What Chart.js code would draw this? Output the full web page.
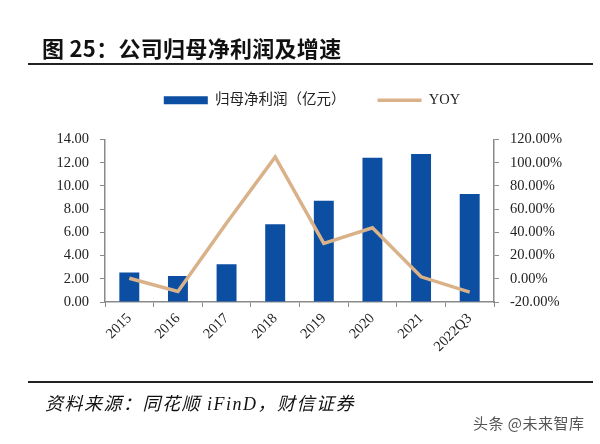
<!DOCTYPE html>
<html>
<head>
<meta charset="utf-8">
<script src="https://cdn.jsdelivr.net/npm/chart.js@4"></script>
<style>
  body { margin: 0; background: #fff; }
  #wrap { position: relative; width: 600px; height: 444px; overflow: hidden; }
  #myCanvas { position: absolute; left: 0; top: 0; }
  .txt { position: absolute; white-space: nowrap; }
  #titulo { left: 42px; top: 31px; font: bold 22px "Noto Sans CJK SC", sans-serif; color: #111; letter-spacing: 0.3px; }
  #fuente { left: 45px; top: 389px; font: italic 18px "Liberation Serif", "Noto Sans CJK SC", serif; color: #111; letter-spacing: 1.5px; }
  #marca { left: 473px; top: 412px; font: 15px "Noto Sans CJK SC", sans-serif; color: #555; letter-spacing: 0.5px; }
  .regla { position: absolute; left: 28px; width: 565px; height: 2px; background: #222; }
</style>
</head>
<body>
<div id="wrap">
  <canvas id="myCanvas" width="600" height="444"></canvas>
  <div class="txt" id="titulo">图 25：公司归母净利润及增速</div>
  <div class="regla" style="top:63px"></div>
  <div class="regla" style="top:381px"></div>
  <div class="txt" id="fuente">资料来源：同花顺 iFinD，财信证券</div>
  <div class="txt" id="marca">头条 @未来智库</div>
</div>
<script>
let canvas = document.getElementById("myCanvas");

// datos
const anios = ["2015", "2016", "2017", "2018", "2019", "2020", "2021", "2022Q3"];
const utilidad = [2.55, 2.23, 3.26, 6.7, 8.73, 12.43, 12.75, 9.3];
const yoy = [0.5, -11, 48, 105, 30.5, 44, 1.7, -11.5];
const ticksIzq = [0, 2, 4, 6, 8, 10, 12, 14];
const ticksDer = [-20, 0, 20, 40, 60, 80, 100, 120];

const azul = "#0B4EA2";
const beige = "#D9B28A";
const gris = "#8a8a8a";
const fuenteEje = { family: "'Liberation Serif', serif", size: 14.5 };

// espacio extra debajo de la leyenda
const ajusteLeyenda = {
  id: "ajusteLeyenda",
  beforeLayout(chart) {
    const leg = chart.legend;
    if (leg && !leg._ajustado) {
      const fitOrig = leg.fit;
      leg.fit = function () {
        fitOrig.call(this);
        this.height += 22;
      };
      leg._ajustado = true;
    }
  }
};

const generarGrafica = () => {
  window.chart = new Chart(canvas, {
    type: "bar",
    data: {
      labels: anios,
      datasets: [
        {
          label: "归母净利润（亿元）",
          data: utilidad,
          backgroundColor: azul,
          borderWidth: 0,
          yAxisID: "y",
          order: 1,
          categoryPercentage: 1,
          barPercentage: 0.41,
        },
        {
          type: "line",
          label: "YOY",
          data: yoy,
          borderColor: beige,
          backgroundColor: beige,
          borderWidth: 3.5,
          pointRadius: 0,
          tension: 0,
          yAxisID: "y1",
          order: 0,
        },
      ],
    },
    options: {
      responsive: false,
      animation: false,
      layout: { padding: { top: 61, left: 24, right: 0, bottom: 0 } },
      plugins: {
        tooltip: { enabled: false },
        legend: {
          position: "top",
          labels: {
            usePointStyle: true,
            pointStyleWidth: 44,
            boxHeight: 8,
            padding: 32,
            color: "#222",
            font: { family: "'Liberation Serif', 'Noto Sans CJK SC', serif", size: 14.5 },
            generateLabels: (chart) => {
              let items = Chart.defaults.plugins.legend.labels.generateLabels(chart);
              items.sort((a, b) => a.datasetIndex - b.datasetIndex);
              items.forEach((it) => {
                if (it.datasetIndex === 1) {
                  it.pointStyle = "line";
                  it.lineWidth = 3.5;
                  it.strokeStyle = beige;
                } else {
                  it.pointStyle = "rect";
                  it.lineWidth = 0;
                  it.fillStyle = azul;
                }
              });
              return items;
            },
          },
        },
      },
      scales: {
        x: {
          offset: true,
          grid: { display: true, drawOnChartArea: false, offset: true, tickLength: 5, color: gris },
          border: { color: gris, width: 1.5 },
          ticks: { minRotation: 45, maxRotation: 45, padding: 3, color: "#222", font: fuenteEje },
          afterFit: (scale) => { scale.height = 444 - 302; },
        },
        y: {
          position: "left",
          min: 0,
          max: 14,
          afterBuildTicks: (scale) => { scale.ticks = ticksIzq.map((v) => ({ value: v })); },
          grid: { drawOnChartArea: false, tickLength: 5, color: gris },
          border: { color: gris, width: 1.5 },
          ticks: { padding: 11, color: "#222", font: fuenteEje, callback: (v) => v.toFixed(2) },
          afterFit: (scale) => { scale.width = 105 - 24; },
        },
        y1: {
          position: "right",
          min: -20,
          max: 120,
          afterBuildTicks: (scale) => { scale.ticks = ticksDer.map((v) => ({ value: v })); },
          grid: { drawOnChartArea: false, tickLength: 5, color: gris },
          border: { color: gris, width: 1.5 },
          ticks: { padding: 11, color: "#222", font: fuenteEje, callback: (v) => v.toFixed(2) + "%" },
          afterFit: (scale) => { scale.width = 106; },
        },
      },
    },
    plugins: [ajusteLeyenda],
  });
};

window.onload = () => {
  generarGrafica();
};
</script>
</body>
</html>
